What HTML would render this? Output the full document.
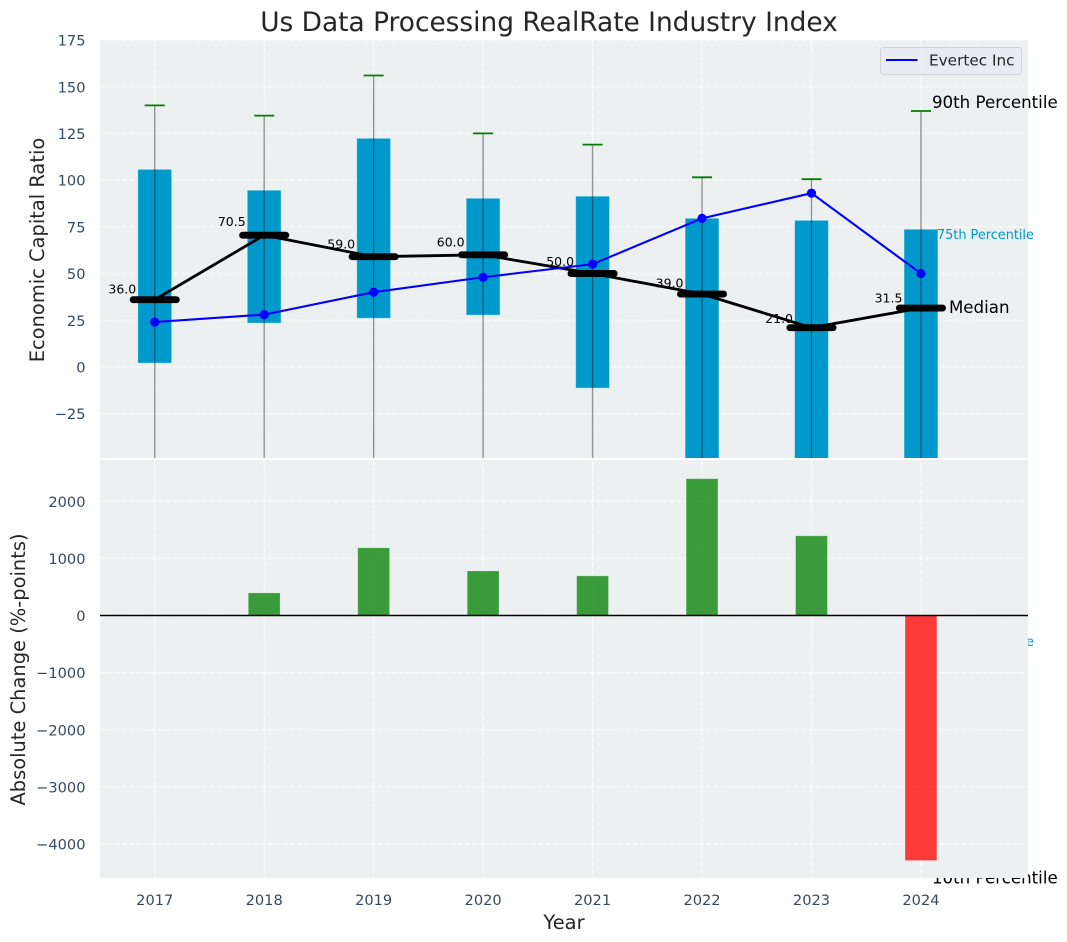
<!DOCTYPE html>
<html lang="en">
<head>
<meta charset="utf-8">
<title>Us Data Processing RealRate Industry Index</title>
<style>
html,body{margin:0;padding:0;background:#fff;}
svg{display:block;font-family:"DejaVu Sans","Liberation Sans",sans-serif;}
</style>
</head>
<body>
<svg id="chart" xmlns="http://www.w3.org/2000/svg" width="1067" height="942" viewBox="0 0 1067 942">
  <defs>
    <clipPath id="clip-top"><rect x="100" y="40" width="928" height="418"/></clipPath>
    <clipPath id="clip-bottom"><rect x="100" y="460" width="928" height="418"/></clipPath>
  </defs>
  <rect x="0" y="0" width="1067" height="942" fill="#ffffff"/>

  <g id="top-axes">
    <rect x="100" y="40" width="928" height="418" fill="#ecf0f1"/>
    <g id="top-grid" clip-path="url(#clip-top)"></g>
    <g id="top-marks" clip-path="url(#clip-top)"></g>
    <g id="median-labels"></g>
    <g id="series-top" clip-path="url(#clip-top)"></g>
    <g>
      <rect x="880.5" y="47.5" width="141" height="27" rx="3" ry="3" fill="#eaeaf2" fill-opacity="0.8" stroke="#cccccc" stroke-opacity="0.8" stroke-width="1"/>
      <line x1="886" y1="60" x2="917.5" y2="60" stroke="#0000ff" stroke-width="2.08"/>
      <text x="929" y="65.5" font-size="15.28" fill="#262626">Evertec Inc</text>
    </g>
    <g>
      <text id="ann-p90" font-size="16.67" fill="#000000">90th Percentile</text>
      <text id="ann-p75" font-size="12.85" fill="#0099cc">75th Percentile</text>
      <text id="ann-p50" font-size="16.67" fill="#000000">Median</text>
      <text id="ann-p25" font-size="12.85" fill="#0099cc">25th Percentile</text>
      <text id="ann-p10" font-size="16.67" fill="#000000">10th Percentile</text>
    </g>
  </g>

  <g id="bottom-axes">
    <rect x="100" y="460" width="928" height="418" fill="#ecf0f1"/>
    <g id="bottom-grid" clip-path="url(#clip-bottom)"></g>
    <g id="bottom-marks" clip-path="url(#clip-bottom)"></g>
    <line id="zero-line" x1="100" x2="1028" stroke="#000000" stroke-width="1.4"/>
  </g>

  <g id="tick-labels"></g>

  <text x="549" y="31" text-anchor="middle" font-size="26.4" fill="#262626">Us Data Processing RealRate Industry Index</text>
  <text transform="translate(44,250) rotate(-90)" text-anchor="middle" font-size="19.45" fill="#262626">Economic Capital Ratio</text>
  <text transform="translate(25,669.5) rotate(-90)" text-anchor="middle" font-size="19.45" fill="#262626">Absolute Change (%-points)</text>
  <text x="564" y="929" text-anchor="middle" font-size="19.45" fill="#262626">Year</text>
</svg>

<script>
const years = [2017, 2018, 2019, 2020, 2021, 2022, 2023, 2024];
const p90 = [140, 134.5, 156, 125, 119, 101.5, 100.5, 137];
const p75 = [105.8, 94.6, 122.4, 90.3, 91.4, 79.6, 78.5, 73.7];
const p50 = [36.0, 70.5, 59.0, 60.0, 50.0, 39.0, 21.0, 31.5];
const p25 = [2, 23.4, 26, 27.7, -11.4, -120, -110, -144];
const p10 = [-90, -80, -85, -75, -100, -220, -200, -278];
const evertec = [24, 28, 40, 48, 55, 79.5, 93, 50];
const absoluteChange = [0, 395, 1185, 780, 693, 2395, 1395, -4290];
const ratioTicks = [-25, 0, 25, 50, 75, 100, 125, 150, 175];
const ratioTickLabels = ['\u221225', '0', '25', '50', '75', '100', '125', '150', '175'];
const changeTicks = [-4000, -3000, -2000, -1000, 0, 1000, 2000];
const changeTickLabels = ['\u22124000', '\u22123000', '\u22122000', '\u22121000', '0', '1000', '2000'];

const NS = 'http://www.w3.org/2000/svg';
const plot = { left: 100, right: 1028, topA: 40, botA: 458, topB: 460, botB: 878 };
const xLim = [2016.5, 2024.978];
const yLimA = [-48.77, 175];
const yLimB = [-4597, 2723];

function xScale(v) { return plot.left + (v - xLim[0]) / (xLim[1] - xLim[0]) * (plot.right - plot.left); }
function yA(v) { return plot.botA - (v - yLimA[0]) / (yLimA[1] - yLimA[0]) * (plot.botA - plot.topA); }
function yB(v) { return plot.botB - (v - yLimB[0]) / (yLimB[1] - yLimB[0]) * (plot.botB - plot.topB); }
function xBand(w) { return w / (xLim[1] - xLim[0]) * (plot.right - plot.left); }

function mk(tag, parent, props) {
  const el = document.createElementNS(NS, tag);
  for (const k in props) { el.setAttribute(k, props[k]); }
  parent.appendChild(el);
  return el;
}

const topGrid = document.getElementById('top-grid');
const bottomGrid = document.getElementById('bottom-grid');
const topMarks = document.getElementById('top-marks');
const bottomMarks = document.getElementById('bottom-marks');
const seriesTop = document.getElementById('series-top');
const medianLabels = document.getElementById('median-labels');
const tickLabels = document.getElementById('tick-labels');
const gridStyle = { stroke: '#ffffff', 'stroke-width': 1.2, 'stroke-dasharray': '5.1 2.2', 'stroke-opacity': 0.75 };

years.forEach(function (yr) {
  const gx = xScale(yr);
  const a = mk('line', topGrid, Object.assign({ x1: gx, x2: gx, y1: plot.topA, y2: plot.botA }, gridStyle));
  
  
  const b = mk('line', bottomGrid, Object.assign({ x1: gx, x2: gx, y1: plot.topB, y2: plot.botB }, gridStyle));
  
  
  const t = mk('text', tickLabels, { x: gx, y: 905, 'text-anchor': 'middle', 'font-size': 14.6, fill: '#34495e' });
  t.textContent = String(yr);
  
  
});

ratioTicks.forEach(function (v, i) {
  const gy = yA(v);
  const g = mk('line', topGrid, Object.assign({ x1: plot.left, x2: plot.right, y1: gy, y2: gy }, gridStyle));
  
  
  const t = mk('text', tickLabels, { x: 85.5, y: gy + 5.6, 'text-anchor': 'end', 'font-size': 14.6, fill: '#34495e' });
  t.textContent = ratioTickLabels[i];
  
  
});

changeTicks.forEach(function (v, i) {
  const gy = yB(v);
  const g = mk('line', bottomGrid, Object.assign({ x1: plot.left, x2: plot.right, y1: gy, y2: gy }, gridStyle));
  
  
  const t = mk('text', tickLabels, { x: 85.5, y: gy + 5.6, 'text-anchor': 'end', 'font-size': 14.6, fill: '#34495e' });
  t.textContent = changeTickLabels[i];
  
  
});

const boxW = xBand(0.31);
years.forEach(function (yr, i) {
  const cx = xScale(yr);
  const box = mk('rect', topMarks, { x: cx - boxW / 2, y: yA(p75[i]), width: boxW, height: yA(p25[i]) - yA(p75[i]), fill: '#0099cc', stroke: '#ffffff', 'stroke-opacity': 0.45, 'stroke-width': 1 });
  
  
  const whisk = mk('line', topMarks, { x1: cx, x2: cx, y1: yA(p90[i]), y2: yA(p10[i]), stroke: '#000000', 'stroke-opacity': 0.4, 'stroke-width': 1.4 });
  
  
  const capTop = mk('line', topMarks, { x1: cx - 10, x2: cx + 10, y1: yA(p90[i]), y2: yA(p90[i]), stroke: '#008000', 'stroke-width': 1.8 });
  
  
  const capBottom = mk('line', topMarks, { x1: cx - 10, x2: cx + 10, y1: yA(p10[i]), y2: yA(p10[i]), stroke: '#008000', 'stroke-width': 1.8 });
  
  

  const lab = mk('text', medianLabels, { x: cx - 18.5, y: yA(p50[i] * 1.05) - 2.8, 'text-anchor': 'end', 'font-size': 12.5, fill: '#000000' });
  lab.textContent = p50[i].toFixed(1);
  
  

  const bw = xBand(0.29);
  const v = absoluteChange[i];
  const bar = mk('rect', bottomMarks, { x: cx - bw / 2, y: Math.min(yB(v), yB(0)), width: bw, height: Math.abs(yB(v) - yB(0)), fill: v >= 0 ? '#008000' : '#ff0000', 'fill-opacity': 0.76, stroke: '#ffffff', 'stroke-opacity': 0.2, 'stroke-width': 1 });
  
  
});

const medianPath = mk('polyline', seriesTop, { points: years.map(function (yr, i) { return xScale(yr) + ',' + yA(p50[i]); }).join(' '), fill: 'none', stroke: '#000000', 'stroke-width': 2.8 });



years.forEach(function (yr, i) {
  const cx = xScale(yr);
  const seg = mk('line', seriesTop, { x1: cx - xBand(0.197), x2: cx + xBand(0.197), y1: yA(p50[i]), y2: yA(p50[i]), stroke: '#000000', 'stroke-width': 6.9, 'stroke-linecap': 'round' });
  
  
});

const evertecPath = mk('polyline', seriesTop, { points: years.map(function (yr, i) { return xScale(yr) + ',' + yA(evertec[i]); }).join(' '), fill: 'none', stroke: '#0000ff', 'stroke-width': 2.08 });



years.forEach(function (yr, i) {
  const pt = mk('circle', seriesTop, { cx: xScale(yr), cy: yA(evertec[i]), r: 4.6, fill: '#0000ff' });
  
  
});

const last = years.length - 1;
const lastX = xScale(years[last]);
function place(id, x, y) {
  const el = document.getElementById(id);
  el.setAttribute('x', x);
  el.setAttribute('y', y);
}
place('ann-p90', lastX + 11, yA(p90[last]) - 2.8);
place('ann-p75', lastX + 16, yA(p75[last]) + 10);
place('ann-p50', lastX + 28, yA(p50[last]) + 5);
place('ann-p25', lastX + 16, yA(p25[last]) + 10);
place('ann-p10', lastX + 11, yA(p10[last]) - 2.8);

const zero = document.getElementById('zero-line');
zero.setAttribute('y1', yB(0));
zero.setAttribute('y2', yB(0));
</script>
</body>
</html>
